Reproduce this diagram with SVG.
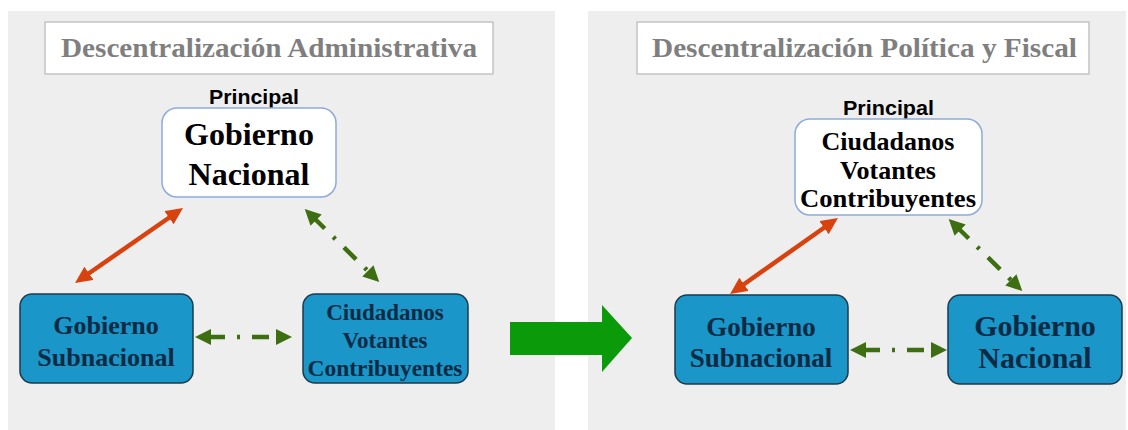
<svg xmlns="http://www.w3.org/2000/svg" width="1128" height="430" viewBox="0 0 1128 430">
<style>
.panel{fill:#eeeeee}
.tbox{fill:#ffffff;stroke:#c4c4c4;stroke-width:1.5}
.title{font-family:"Liberation Serif",serif;font-weight:bold;fill:#7f7f7f;font-size:28px}
.prin{font-family:"Liberation Sans",Arial,sans-serif;font-weight:bold;font-size:20px;fill:#000}
.wbox{fill:#ffffff;stroke:#8eaadb;stroke-width:1.5}
.bbox{fill:#1a96c8;stroke:#1d3a4c;stroke-width:1.5}
.wt{font-family:"Liberation Serif",serif;font-weight:bold;fill:#000;text-anchor:middle}
.bt{font-family:"Liberation Serif",serif;font-weight:bold;fill:#0c2a44;text-anchor:middle}
.red{stroke:#d8420f;stroke-width:4.5;fill:none}
.grn{stroke:#3d6e12;stroke-width:4.5;fill:none;stroke-dasharray:17 12 3 12}
</style>
<defs>
<marker id="ahR" markerUnits="userSpaceOnUse" markerWidth="18" markerHeight="16" viewBox="0 0 18 16" refX="3" refY="8" orient="auto-start-reverse">
<path d="M0,0 L17,8 L0,16 Z" fill="#d8420f"/>
</marker>
<marker id="ahG" markerUnits="userSpaceOnUse" markerWidth="18" markerHeight="16" viewBox="0 0 18 16" refX="3" refY="8" orient="auto-start-reverse">
<path d="M0,0 L16,8 L0,16 Z" fill="#3d6e12"/>
</marker>
</defs>
<rect x="0" y="0" width="1128" height="430" fill="#ffffff"/>
<rect class="panel" x="8" y="11" width="547" height="419"/>
<rect class="panel" x="588" y="11" width="538" height="419"/>

<g id="title-left">
<rect class="tbox" x="45" y="22" width="448" height="52"/>
<text class="title" x="61" y="57" textLength="416" lengthAdjust="spacingAndGlyphs">Descentralización Administrativa</text>
</g>
<g id="title-right">
<rect class="tbox" x="637" y="22" width="452" height="52"/>
<text class="title" x="652" y="57" textLength="425" lengthAdjust="spacingAndGlyphs">Descentralización Política y Fiscal</text>
</g>

<g id="left-principal">
<text class="prin" x="209" y="104" textLength="90" lengthAdjust="spacingAndGlyphs">Principal</text>
<rect class="wbox" x="162" y="108" width="174" height="89" rx="15"/>
<text class="wt" x="249" y="145" font-size="32">Gobierno</text>
<text class="wt" x="249" y="185" font-size="32">Nacional</text>
</g>
<g id="left-subnacional">
<rect class="bbox" x="20" y="294" width="173" height="89" rx="12"/>
<text class="bt" x="106" y="334" font-size="26">Gobierno</text>
<text class="bt" x="106" y="366" font-size="26">Subnacional</text>
</g>
<g id="left-ciudadanos">
<rect class="bbox" x="303" y="294" width="165" height="89" rx="12"/>
<text class="bt" x="385" y="320" font-size="23">Ciudadanos</text>
<text class="bt" x="385" y="348" font-size="23">Votantes</text>
<text class="bt" x="385" y="376" font-size="23" textLength="155" lengthAdjust="spacingAndGlyphs">Contribuyentes</text>
</g>

<g id="right-principal">
<text class="prin" x="843" y="115" textLength="91" lengthAdjust="spacingAndGlyphs">Principal</text>
<rect class="wbox" x="795" y="119" width="187" height="96" rx="15"/>
<text class="wt" x="888" y="150" font-size="26">Ciudadanos</text>
<text class="wt" x="888" y="179" font-size="26">Votantes</text>
<text class="wt" x="888" y="207" font-size="26" textLength="176" lengthAdjust="spacingAndGlyphs">Contribuyentes</text>
</g>
<g id="right-subnacional">
<rect class="bbox" x="675" y="295" width="173" height="89" rx="12"/>
<text class="bt" x="761" y="336" font-size="27">Gobierno</text>
<text class="bt" x="761" y="367" font-size="27">Subnacional</text>
</g>
<g id="right-nacional">
<rect class="bbox" x="948" y="295" width="174" height="89" rx="12"/>
<text class="bt" x="1035" y="336" font-size="30">Gobierno</text>
<text class="bt" x="1035" y="368" font-size="30">Nacional</text>
</g>

<g id="connectors">
<line class="red" x1="86.5" y1="275" x2="171.5" y2="216" marker-start="url(#ahR)" marker-end="url(#ahR)"/>
<line class="grn" x1="314" y1="218" x2="370" y2="273" stroke-dashoffset="2" marker-start="url(#ahG)" marker-end="url(#ahG)"/>
<line class="grn" x1="208" y1="337" x2="279" y2="337" stroke-dashoffset="0" marker-start="url(#ahG)" marker-end="url(#ahG)"/>
<line class="red" x1="741.5" y1="286" x2="826.5" y2="226" marker-start="url(#ahR)" marker-end="url(#ahR)"/>
<line class="grn" x1="958" y1="228" x2="1013" y2="282" stroke-dashoffset="2" marker-start="url(#ahG)" marker-end="url(#ahG)"/>
<line class="grn" x1="863" y1="350" x2="934" y2="350" stroke-dashoffset="0" marker-start="url(#ahG)" marker-end="url(#ahG)"/>
<polygon points="510,322 602,322 602,305 632,338 602,372 602,355 510,355" fill="#0a9a0a"/>
</g>
</svg>
